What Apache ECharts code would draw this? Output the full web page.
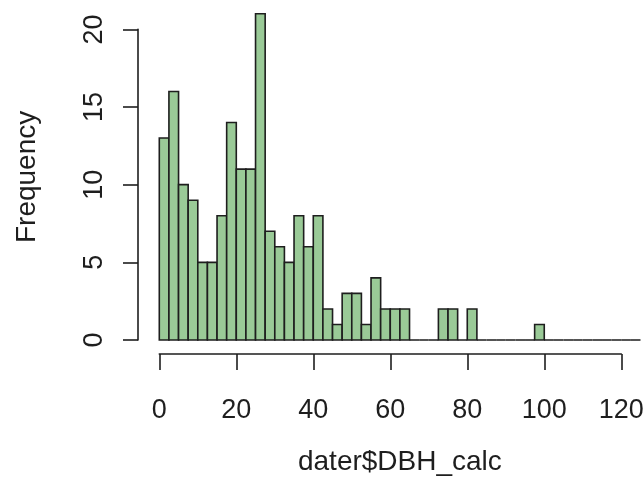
<!DOCTYPE html>
<html>
<head>
<meta charset="utf-8">
<script src="https://cdn.jsdelivr.net/npm/echarts@6/dist/echarts.min.js"></script>
<style>
html,body{margin:0;padding:0;background:#fff;}
#chart{width:643px;height:489px;}
</style>
</head>
<body>
<div id="chart"></div>
<script>
// Histogram bin breaks (width 2.5)
const breaks = [0,2.5,5,7.5,10,12.5,15,17.5,20,22.5,25,27.5,30,32.5,35,37.5,40,42.5,45,47.5,50,
  52.5,55,57.5,60,62.5,65,67.5,70,72.5,75,77.5,80,82.5,85,87.5,90,92.5,95,97.5,100,
  102.5,105,107.5,110,112.5,115,117.5,120,122.5,125];
// Frequency per bin
const counts = [13,16,10,9,5,5,8,14,11,11,21,7,6,5,8,6,8,2,1,3,3,1,4,2,2,2,
  0,0,0,2,2,0,2,0,0,0,0,0,0,1,0,0,0,0,0,0,0,0,0,0];
const xTicks = [0,20,40,60,80,100,120];
const yTicks = [0,5,10,15,20];
const xTitle = 'dater$DBH_calc';
const yTitle = 'Frequency';

const FONT = "'Liberation Sans', Arial, sans-serif";
const INK = '#1e1e1e';
const FILL = '#9aca97';

const binData = counts.map((c, i) => [breaks[i], breaks[i + 1], c]);

const chart = echarts.init(document.getElementById('chart'), null, {renderer: 'canvas'});
chart.setOption({
  animation: false,
  backgroundColor: '#ffffff',
  grid: [
    {left: 159.3, width: 481.2, top: 13.8, height: 326.2, outerBoundsMode: 'none', containLabel: false},
    {left: 159.3, width: 462, top: 300, height: 54, outerBoundsMode: 'none', containLabel: false},
    {left: 138, width: 20, top: 29.4, height: 310.6, outerBoundsMode: 'none', containLabel: false}
  ],
  xAxis: [
    {gridIndex: 0, type: 'value', min: breaks[0], max: breaks[breaks.length - 1],
     axisLine: {show: false}, axisTick: {show: false}, axisLabel: {show: false}, splitLine: {show: false},
     name: xTitle, nameLocation: 'middle', nameGap: 108,
     nameTextStyle: {fontFamily: FONT, fontSize: 28, color: INK}},
    {gridIndex: 1, type: 'value', min: xTicks[0], max: xTicks[xTicks.length - 1], interval: 20,
     position: 'bottom',
     axisLine: {show: true, lineStyle: {color: INK, width: 1.6}},
     axisTick: {show: true, length: 16, lineStyle: {color: INK, width: 1.6}},
     axisLabel: {show: true, margin: 43, fontFamily: FONT, fontSize: 27, color: INK},
     splitLine: {show: false}},
    {gridIndex: 2, type: 'value', show: false, min: 0, max: 1}
  ],
  yAxis: [
    {gridIndex: 0, type: 'value', min: 0, max: 21,
     axisLine: {show: false}, axisTick: {show: false}, axisLabel: {show: false}, splitLine: {show: false},
     name: yTitle, nameLocation: 'middle', nameGap: 118,
     nameTextStyle: {fontFamily: FONT, fontSize: 28, color: INK}},
    {gridIndex: 1, type: 'value', show: false, min: 0, max: 1},
    {gridIndex: 2, type: 'value', min: yTicks[0], max: yTicks[yTicks.length - 1], interval: 5,
     position: 'left',
     axisLine: {show: true, lineStyle: {color: INK, width: 1.6}},
     axisTick: {show: true, length: 15, lineStyle: {color: INK, width: 1.6}},
     axisLabel: {show: true, rotate: 90, margin: 30, fontFamily: FONT, fontSize: 27, color: INK},
     splitLine: {show: false}}
  ],
  series: [{
    type: 'custom',
    xAxisIndex: 0,
    yAxisIndex: 0,
    clip: false,
    encode: {x: [0, 1], y: 2},
    data: binData,
    renderItem: function (params, api) {
      const p0 = api.coord([api.value(0), api.value(2)]);
      const p1 = api.coord([api.value(1), 0]);
      return {
        type: 'rect',
        shape: {x: p0[0], y: p0[1], width: p1[0] - p0[0], height: p1[1] - p0[1]},
        style: {fill: FILL, stroke: INK, lineWidth: 1.6}
      };
    }
  }]
});
</script>
</body>
</html>
